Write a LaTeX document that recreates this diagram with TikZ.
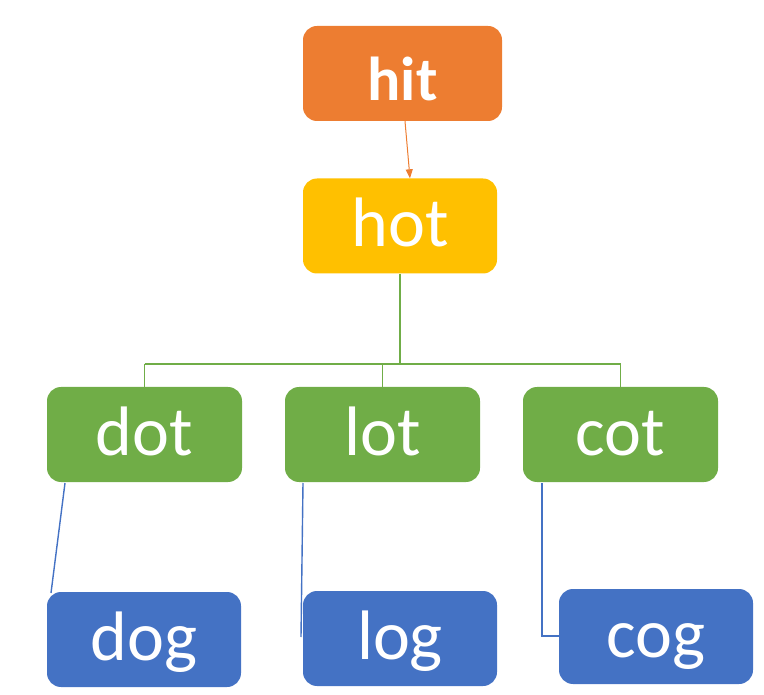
\documentclass[tikz,border=0pt]{standalone}
\usepackage{fontspec}
\setmainfont{Carlito}
\usetikzlibrary{arrows.meta,calc}
\definecolor{corange}{HTML}{ED7D31}
\definecolor{cyellow}{HTML}{FFC000}
\definecolor{cgreen}{HTML}{70AD47}
\definecolor{cblue}{HTML}{4472C4}
\begin{document}
\begin{tikzpicture}[x=1pt,y=-1pt,
  box/.style={rectangle, rounded corners=14pt, minimum width=195pt, minimum height=95pt,
    inner sep=0pt, text=white, font=\fontsize{70}{70}\selectfont, text height=42pt, text depth=0pt},
  conn/.style={line width=1.4pt}]
\useasboundingbox (0,0) rectangle (764,695);
\node[box, fill=corange, minimum width=199pt, font=\bfseries\fontsize{62}{62}\selectfont, text height=54pt] (hit) at (402.5,73.5) {hit};
\node[box, fill=cyellow, minimum width=194pt] (hot) at (400,226) {hot};
\node[box, fill=cgreen] (dot) at (144.5,434.5) {dot};
\node[box, fill=cgreen] (lot) at (382.5,434.5) {lot};
\node[box, fill=cgreen] (cot) at (620.5,434.5) {cot};
\node[box, fill=cblue, minimum width=194pt] (dog) at (144,639.5) {dog};
\node[box, fill=cblue, minimum width=194pt] (log) at (400,638.5) {log};
\node[box, fill=cblue, minimum width=194pt] (cog) at (656,636.5) {cog};
% orange arrow
\draw[corange, line width=1pt, -{Triangle[length=9pt,width=7pt]}] ($(hit.south)+(2.5,0)$) -- ($(hot.north)+(10,0)$);
% green tree
\coordinate (junc) at (400,364);
\coordinate (jl) at (144.5,364);
\coordinate (jr) at (620.5,364);
\draw[cgreen, conn] (hot.south) -- (junc);
\draw[cgreen, conn] (jl) -- (jr);
\draw[cgreen, conn] (jl) -- (dot.north);
\draw[cgreen, conn] (382.5,364) -- (lot.north);
\draw[cgreen, conn] (jr) -- (cot.north);
% blue connectors
\coordinate (d1) at (65,483);
\coordinate (d2) at (51,593);
\draw[cblue, conn] (d1) -- (d2);
\coordinate (l1) at (303,483);
\coordinate (l2) at (301,637);
\draw[cblue, conn] (l1) -- (l2);
\coordinate (c1) at (542,483);
\coordinate (c2) at (542,636);
\draw[cblue, conn] (c1) -- (c2) -- (cog.west |- c2);
\end{tikzpicture}
\end{document}
